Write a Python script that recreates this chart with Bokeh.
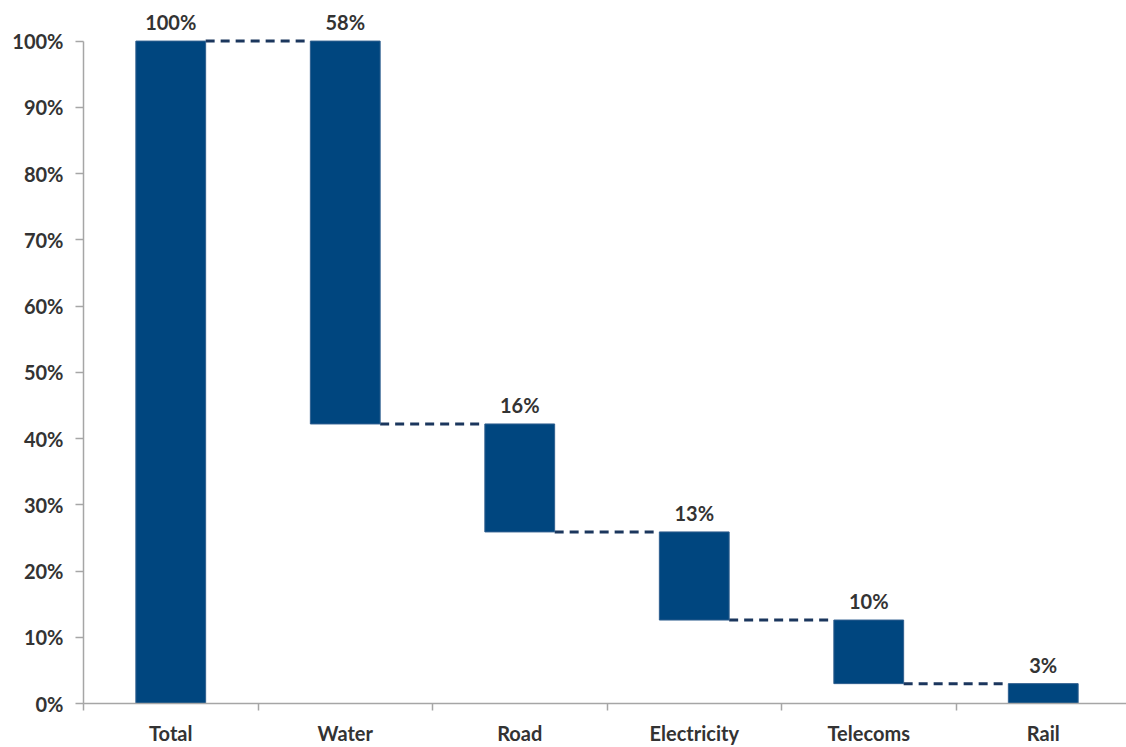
from bokeh.plotting import figure
from bokeh.models import (ColumnDataSource, Range1d, FixedTicker, PrintfTickFormatter,
                          LabelSet)
from bokeh.core.properties import value
from bokeh.embed import file_html
from bokeh.resources import INLINE

# ---- data ----
categories = ["Total", "Water", "Road", "Electricity", "Telecoms", "Rail"]
shares = [100, 57.8, 16.3, 13.3, 9.6, 3.0]
y_ticks = [0, 10, 20, 30, 40, 50, 60, 70, 80, 90, 100]

# ---- waterfall geometry from data ----
xs = list(range(len(categories)))
tops, bottoms = [], []
running = 0.0
for i, v in enumerate(shares):
    if i == 0:
        bottoms.append(0.0)
        tops.append(v)
        running = v
    else:
        tops.append(running)
        bottoms.append(running - v)
        running = running - v
labels = [f"{round(v)}%" for v in shares]

bar_w = 0.4
src = ColumnDataSource(dict(x=xs, top=tops, bottom=bottoms, label=labels))

# connector levels: from each bar to the next
levels = [tops[0]] + bottoms[1:-1]
conn = ColumnDataSource(dict(
    x0=[i + bar_w / 2 for i in range(len(categories) - 1)],
    x1=[i + 1 - bar_w / 2 for i in range(len(categories) - 1)],
    y=levels,
))

FONT = "Lato"
TXT = "#333333"

p = figure(width=1126, height=747, output_backend="svg", toolbar_location=None,
           x_range=Range1d(-0.5, -0.5 + 1043 / 174.5),
           y_range=Range1d(0, 705 / 6.643),
           min_border_left=83, min_border_right=0, min_border_top=0,
           min_border_bottom=42)
p.outline_line_color = None
p.xgrid.visible = False
p.ygrid.visible = False
p.background_fill_color = "white"
p.border_fill_color = "white"

p.segment(x0="x0", y0="y", x1="x1", y1="y", source=conn,
          line_color="#1b365d", line_width=3, line_dash="9 6")

p.vbar(x="x", width=bar_w, top="top", bottom="bottom", source=src,
       fill_color="#00467f", line_color="#2f5f8f", line_width=1)

lab = LabelSet(x="x", y="top", text="label", source=src, text_align="center",
               text_baseline="alphabetic", y_offset=11,
               text_font=value(FONT), text_font_style="bold",
               text_font_size="20px", text_color=TXT)
p.add_layout(lab)

# y axis
p.yaxis.ticker = FixedTicker(ticks=y_ticks)
p.yaxis.formatter = PrintfTickFormatter(format="%d%%")
p.yaxis.bounds = (0, 100)
p.yaxis.axis_line_color = "#a6a6a6"
p.yaxis.axis_line_width = 1.5
p.yaxis.major_tick_line_color = "#a6a6a6"
p.yaxis.major_tick_line_width = 1.5
p.yaxis.major_tick_out = 8
p.yaxis.major_tick_in = 0
p.yaxis.minor_tick_line_color = None
p.yaxis.major_label_standoff = 12
p.yaxis.major_label_text_font = FONT
p.yaxis.major_label_text_font_style = "bold"
p.yaxis.major_label_text_font_size = "20px"
p.yaxis.major_label_text_color = TXT

# x axis: labels at centres, tick marks between categories
boundaries = [i - 0.5 for i in range(len(categories) + 1)]
p.xaxis.ticker = FixedTicker(ticks=xs, minor_ticks=boundaries)
p.xaxis.major_label_overrides = {i: c for i, c in enumerate(categories)}
p.xaxis.axis_line_color = "#a6a6a6"
p.xaxis.axis_line_width = 1.5
p.xaxis.major_tick_line_color = None
p.xaxis.major_tick_out = 7
p.xaxis.minor_tick_line_color = "#a6a6a6"
p.xaxis.minor_tick_line_width = 1.5
p.xaxis.minor_tick_out = 7
p.xaxis.minor_tick_in = 0
p.xaxis.major_label_standoff = 10
p.xaxis.major_label_text_font = FONT
p.xaxis.major_label_text_font_style = "bold"
p.xaxis.major_label_text_font_size = "20px"
p.xaxis.major_label_text_color = TXT

open("out.html", "w").write(file_html(p, INLINE))
